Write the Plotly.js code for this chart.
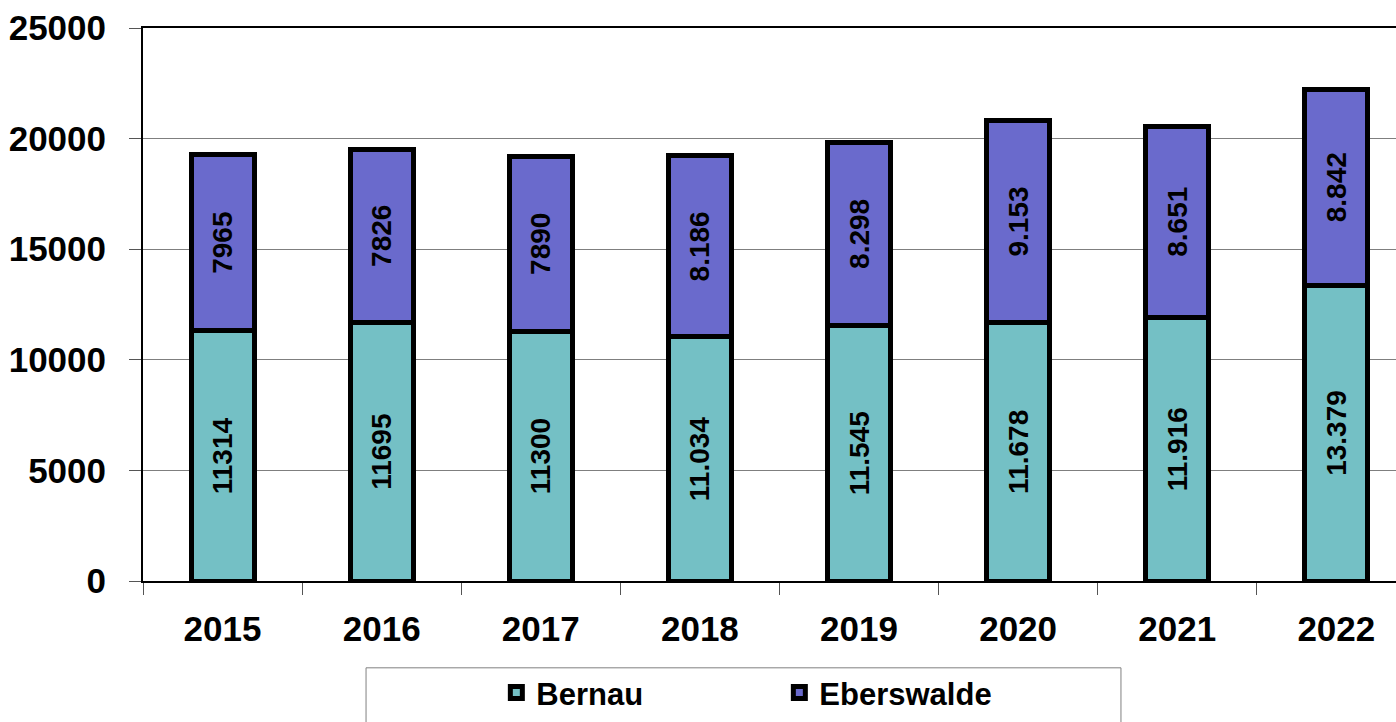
<!DOCTYPE html>
<html>
<head>
<meta charset="utf-8">
<script src="https://cdn.plot.ly/plotly-3.0.1.min.js"></script>
<style>html,body{margin:0;padding:0;background:#fff;}#chart{width:1396px;height:722px;}</style>
</head>
<body>
<div id="chart"></div>
<script>
const years = ['2015','2016','2017','2018','2019','2020','2021','2022'];
const bernau = [11314, 11695, 11300, 11034, 11545, 11678, 11916, 13379];
const eberswalde = [7965, 7826, 7890, 8186, 8298, 9153, 8651, 8842];
const bernauLabels = ['11314','11695','11300','11.034','11.545','11.678','11.916','13.379'];
const eberswaldeLabels = ['7965','7826','7890','8.186','8.298','9.153','8.651','8.842'];
const yTicks = [0, 5000, 10000, 15000, 20000, 25000];

const sans = "'Liberation Sans', Arial, sans-serif";

const common = {
  type: 'bar',
  x: years,
  textposition: 'inside',
  insidetextanchor: 'middle',
  textangle: -90,
  constraintext: 'none',
  textfont: {family: sans, size: 28, color: '#000', weight: 'bold'},
  hoverinfo: 'skip'
};

const traces = [
  Object.assign({}, common, {
    name: 'Bernau', y: bernau, text: bernauLabels,
    marker: {color: '#74C0C5', line: {color: '#000', width: 5}}
  }),
  Object.assign({}, common, {
    name: 'Eberswalde', y: eberswalde, text: eberswaldeLabels,
    marker: {color: '#6A6ACC', line: {color: '#000', width: 5}}
  })
];

const layout = {
  width: 1396, height: 722,
  margin: {l: 143, r: 0, t: 28, b: 141, pad: 0},
  paper_bgcolor: '#fff', plot_bgcolor: '#fff',
  barmode: 'stack',
  bargap: 0.604,
  showlegend: true,
  xaxis: {
    type: 'category',
    range: [-0.5, 7.375],
    showline: true, linecolor: '#000', linewidth: 2, mirror: true,
    ticks: 'outside', tickson: 'boundaries', ticklen: 12, tickwidth: 1, tickcolor: '#555',
    showgrid: false,
    ticklabelstandoff: 16,
    tickfont: {family: sans, size: 35, color: '#000', weight: 'bold'}
  },
  yaxis: {
    range: [0, 25000],
    tickvals: yTicks,
    ticktext: yTicks.map(String),
    showline: true, linecolor: '#000', linewidth: 2,
    ticks: 'outside', ticklen: 12, tickwidth: 1, tickcolor: '#555',
    showgrid: true, gridcolor: '#7f7f7f', gridwidth: 1,
    zeroline: false,
    ticklabelstandoff: 16,
    tickfont: {family: sans, size: 35, color: '#000', weight: 'bold'}
  },
  legend: {
    orientation: 'h',
    xref: 'paper', yref: 'paper',
    x: 0.282, xanchor: 'left',
    y: -0.2023, yanchor: 'middle',
    bgcolor: 'rgba(0,0,0,0)', borderwidth: 0,
    entrywidth: 238, entrywidthmode: 'pixels',
    font: {family: sans, size: 31, color: '#000', weight: 'bold'},
    traceorder: 'normal'
  },
  shapes: [{
    type: 'rect', xref: 'paper', yref: 'paper',
    x0: 0.178, x1: 0.7805, y0: -0.157, y1: -0.30,
    line: {color: '#808080', width: 1}, fillcolor: 'rgba(0,0,0,0)', layer: 'below'
  }]
};

Plotly.newPlot('chart', traces, layout, {displayModeBar: false, staticPlot: true});
</script>
</body>
</html>
